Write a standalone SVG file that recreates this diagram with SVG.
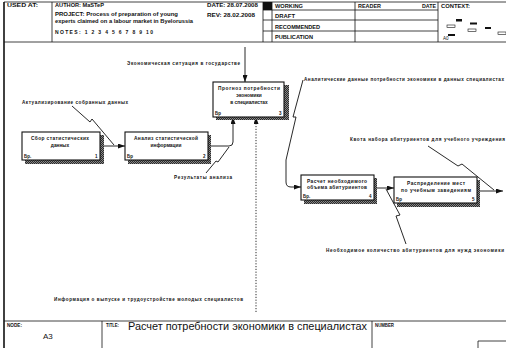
<svg xmlns="http://www.w3.org/2000/svg" width="506" height="348" viewBox="0 0 506 348">
<defs>
<marker id="ah" markerWidth="7" markerHeight="5" refX="7" refY="2.5" orient="auto" markerUnits="userSpaceOnUse"><path d="M0,0 L7,2.5 L0,5 z" fill="#111"/></marker>
<pattern id="hatch" width="2" height="2" patternUnits="userSpaceOnUse"><rect width="2" height="2" fill="#888"/><path d="M0,2 L2,0" stroke="#111" stroke-width="0.8"/></pattern>
</defs>
<style>
.t{font-family:"Liberation Sans",Arial,sans-serif;fill:#111}
.h{font-size:5px;font-weight:bold}
.lbl{font-size:4.6px;font-weight:bold}
.bt{font-size:4.8px;text-anchor:middle;font-weight:bold}
.n{font-size:4.5px;font-weight:bold}
.bx{fill:#fff;stroke:#111;stroke-width:1.1}
.sh{fill:url(#hatch)}
.ln{fill:none;stroke:#111;stroke-width:0.9}
.fr{stroke:#111;stroke-width:0.8;fill:none}
</style>
<rect width="506" height="348" fill="#fff"/>
<g id="frame">
<path class="fr" d="M4,2 H506 M4,42 H506 M52,2 V42 M263,2 V42 M272,2 V42 M355,2 V42 M438,2 V42 M263,10 H438 M263,20 H438 M263,31 H438 M4,321 H506 M102,321 V348 M372,321 V348"/>
<path d="M4,2 V348" stroke="#111" stroke-width="1.6"/>
<rect x="263" y="2" width="9" height="8" fill="#111"/>
<text class="t h" x="7" y="7" textLength="31" lengthAdjust="spacingAndGlyphs">USED AT:</text>
<text class="t h" x="55" y="7" textLength="49" lengthAdjust="spacingAndGlyphs">AUTHOR: MaSTeP</text>
<text class="t h" x="55" y="16" textLength="123" lengthAdjust="spacingAndGlyphs">PROJECT: Process of preparation of young</text>
<text class="t h" x="55" y="23" textLength="138" lengthAdjust="spacingAndGlyphs">experts claimed on a labour market in Byelorussia</text>
<text class="t h" x="55" y="34" textLength="98">NOTES: 1 2 3 4 5 6 7 8 9 10</text>
<text class="t h" x="207" y="7" textLength="51" lengthAdjust="spacingAndGlyphs">DATE: 28.07.2008</text>
<text class="t h" x="207" y="17" textLength="48" lengthAdjust="spacingAndGlyphs">REV: 28.02.2008</text>
<text class="t h" x="275" y="8" textLength="28" lengthAdjust="spacingAndGlyphs">WORKING</text>
<text class="t h" x="275" y="18" textLength="20" lengthAdjust="spacingAndGlyphs">DRAFT</text>
<text class="t h" x="275" y="28.5" textLength="45" lengthAdjust="spacingAndGlyphs">RECOMMENDED</text>
<text class="t h" x="275" y="39" textLength="38" lengthAdjust="spacingAndGlyphs">PUBLICATION</text>
<text class="t h" x="358" y="8" textLength="23" lengthAdjust="spacingAndGlyphs">READER</text>
<text class="t h" x="422" y="8" textLength="14" lengthAdjust="spacingAndGlyphs">DATE</text>
<text class="t h" x="441" y="8" textLength="29" lengthAdjust="spacingAndGlyphs">CONTEXT:</text>
<rect x="456" y="19" width="6" height="2.5" fill="#111"/>
<rect x="447" y="25" width="8" height="2.5" fill="none" stroke="#111" stroke-width="0.6"/>
<rect x="470" y="22.5" width="7" height="2" fill="#111"/>
<rect x="485" y="27" width="6" height="2" fill="#111"/>
<rect x="468" y="29" width="8" height="2.5" fill="none" stroke="#111" stroke-width="0.6"/>
<rect x="498" y="32" width="8" height="2.5" fill="none" stroke="#111" stroke-width="0.6"/>
<rect x="448" y="34" width="7" height="2" fill="#111"/>
<text class="t" x="443" y="40" font-size="4.5">A0</text>
<text class="t h" x="7" y="327" font-size="4.5" textLength="15" lengthAdjust="spacingAndGlyphs">NODE:</text>
<text class="t h" x="106" y="327" textLength="13" lengthAdjust="spacingAndGlyphs">TITLE:</text>
<text class="t" x="128" y="330" font-size="10.5" textLength="239" lengthAdjust="spacingAndGlyphs">Расчет потребности экономики в специалистах</text>
<text class="t h" x="375" y="327" textLength="19" lengthAdjust="spacingAndGlyphs">NUMBER</text>
<text class="t" x="43" y="339" font-size="8">A3</text>
<path class="fr" d="M478,348 V341 H506"/>
</g>
<g id="connectors">
<path class="ln" d="M245,47 V82" marker-end="url(#ah)"/>
<path class="ln" d="M100,146 H125" marker-end="url(#ah)"/>
<path class="ln" d="M72,106 L90,122 L92,119 L114,145"/>
<path class="ln" d="M208,146 H229 Q233,146 233,142 V117" marker-end="url(#ah)"/>
<path class="ln" d="M206,173 L216,161 L218,162 L229,147"/>
<path class="ln" d="M256,312 V117" stroke-dasharray="1.2,1.6" marker-end="url(#ah)"/>
<path class="ln" d="M303,80 L293,117 L296,117 L286,160 V182 Q286,187 291,187 H301" marker-end="url(#ah)"/>
<path class="ln" d="M374,188 H394" marker-end="url(#ah)"/>
<path class="ln" d="M406,244 L396,216 L400,215 L386,189"/>
<path class="ln" d="M477,191 H503" marker-end="url(#ah)"/>
<path class="ln" d="M428,146 L458,166 L462,164 L494,190"/>
<text class="t lbl" x="127" y="65" textLength="113">Экономическая ситуация в государстве</text>
<text class="t lbl" x="22" y="104" textLength="106">Актуализирование собранных данных</text>
<text class="t lbl" x="174" y="179" textLength="58">Результаты анализа</text>
<text class="t lbl" x="304" y="81" textLength="200">Аналитические данные потребности экономики в данных специалистах</text>
<text class="t lbl" x="350" y="141" textLength="155">Квота набора абитуриентов для учебного учреждения</text>
<text class="t lbl" x="326" y="252" textLength="178">Необходимое количество абитуриентов для нужд экономики</text>
<text class="t lbl" x="54" y="301" textLength="189">Информация о выпуске и трудоустройстве молодых специалистов</text>
</g>
<g id="node1">
<rect class="sh" x="25" y="135" width="79" height="29"/>
<rect class="bx" x="22" y="132" width="78" height="28"/>
<text class="t bt" x="60" y="140" textLength="58">Сбор статистических</text>
<text class="t bt" x="60" y="147">данных</text>
<text class="t n" x="24" y="158">Бр.</text>
<text class="t n" x="95" y="158">1</text>
</g>
<g id="node2">
<rect class="sh" x="128" y="135" width="83" height="29"/>
<rect class="bx" x="125" y="132" width="83" height="28"/>
<text class="t bt" x="166" y="140" textLength="64">Анализ статистической</text>
<text class="t bt" x="166" y="147">информации</text>
<text class="t n" x="127" y="158">Бр</text>
<text class="t n" x="203" y="158">2</text>
</g>
<g id="node3">
<rect class="sh" x="216" y="85" width="73" height="35"/>
<rect class="bx" x="213" y="82" width="71" height="35"/>
<text class="t bt" x="249" y="90" textLength="62">Прогноз потребности</text>
<text class="t bt" x="249" y="97">экономики</text>
<text class="t bt" x="249" y="104">в специалистах</text>
<text class="t n" x="215" y="115">Бр</text>
<text class="t n" x="279" y="115">3</text>
</g>
<g id="node4">
<rect class="sh" x="304" y="178" width="73" height="26"/>
<rect class="bx" x="301" y="175" width="73" height="25"/>
<text class="t bt" x="337" y="183" textLength="60">Расчет необходимого</text>
<text class="t bt" x="337" y="189" textLength="60">объема абитуриентов</text>
<text class="t n" x="303" y="198">Бр.</text>
<text class="t n" x="369" y="198">4</text>
</g>
<g id="node5">
<rect class="sh" x="397" y="180" width="83" height="27"/>
<rect class="bx" x="394" y="177" width="83" height="26"/>
<text class="t bt" x="436" y="185" textLength="58">Распределение мест</text>
<text class="t bt" x="436" y="192" textLength="70">по учебным заведениям</text>
<text class="t n" x="396" y="201">Бр</text>
<text class="t n" x="472" y="201">5</text>
</g>
</svg>
